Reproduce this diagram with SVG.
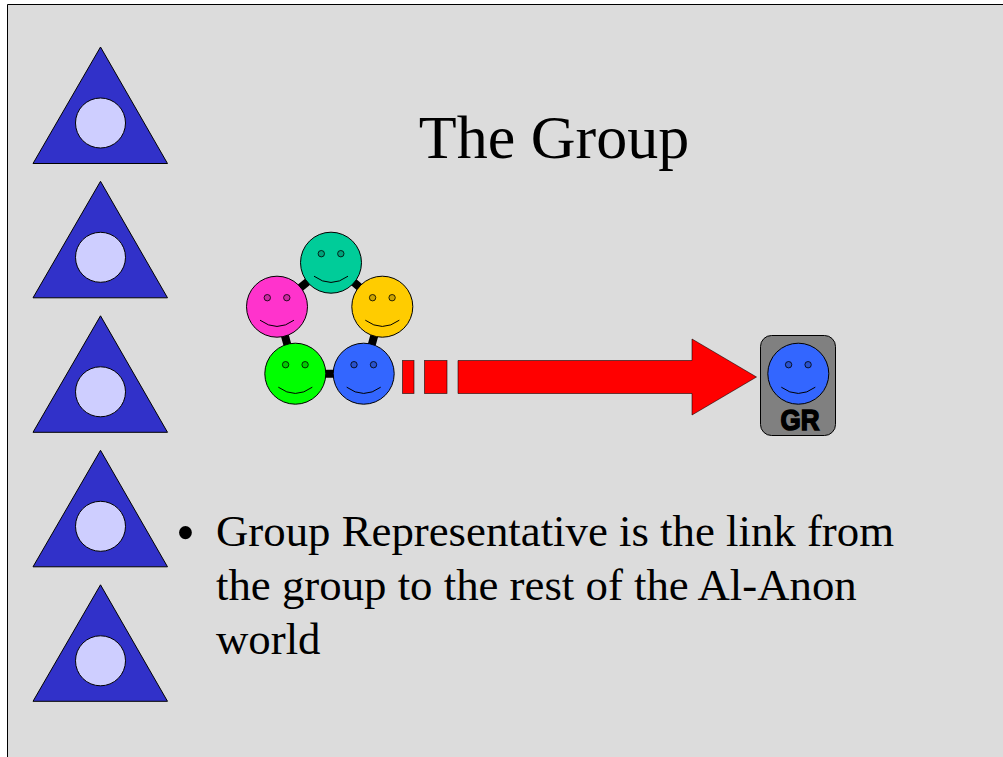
<svg xmlns="http://www.w3.org/2000/svg" width="1003" height="757" viewBox="0 0 1003 757">
<style>
.tri{fill:#3131c9;stroke:#000;stroke-width:1}
.hole{fill:#ceceff;stroke:#000;stroke-width:1}
.face{stroke:#000;stroke-width:1}
.eye{stroke:#000;stroke-width:.8}
.mouth{fill:none;stroke:#000;stroke-width:1}
.red{fill:#f00;stroke:#000;stroke-width:.8;stroke-opacity:.7}
.link{stroke:#000;stroke-width:8;fill:none}
text{font-family:"Liberation Serif","Times New Roman",serif;fill:#000}
</style>
<defs>
<g id="logo"><path class="tri" d="M100.500 47L167.500 163.500H33Z"/><circle class="hole" cx="100.500" cy="123" r="25"/></g>
<g id="smile"><circle class="eye" cx="-9.700" cy="-9" r="3.200"/><circle class="eye" cx="9.800" cy="-9" r="3.200"/><path class="mouth" d="M-17 13.500Q0 26 17 13.500"/></g>
</defs>
<rect width="1003" height="757" fill="#fff"/>
<rect x="7.500" y="4.500" width="996" height="753" fill="#dcdcdc"/>
<path d="M7.500 757V4.500H1003" fill="none" stroke="#000" stroke-width="1"/>
<g id="logo1"><use href="#logo"/></g>
<g id="logo2"><use href="#logo" y="134.300"/></g>
<g id="logo3"><use href="#logo" y="268.800"/></g>
<g id="logo4"><use href="#logo" y="403.300"/></g>
<g id="logo5"><use href="#logo" y="537.800"/></g>
<g id="connectors">
<path class="link" d="M331 262.700L382.300 306.700L363.700 373.700L295.300 373.700L277 306.700Z"/>
</g>
<g id="face-teal"><circle class="face" cx="331" cy="262.700" r="30.500" fill="#00cc99"/><use href="#smile" x="331" y="262.700" fill="#00a37a"/></g>
<g id="face-magenta"><circle class="face" cx="277" cy="306.700" r="30.500" fill="#ff33cc"/><use href="#smile" x="277" y="306.700" fill="#cc29a3"/></g>
<g id="face-yellow"><circle class="face" cx="382.300" cy="306.700" r="30.500" fill="#ffcc00"/><use href="#smile" x="382.300" y="306.700" fill="#cca300"/></g>
<g id="face-green"><circle class="face" cx="295.300" cy="373.700" r="30.500" fill="#00ff00"/><use href="#smile" x="295.300" y="373.700" fill="#00cc00"/></g>
<g id="face-blue"><circle class="face" cx="363.700" cy="373.700" r="30.500" fill="#3366ff"/><use href="#smile" x="363.700" y="373.700" fill="#2952cc"/></g>
<g id="arrow">
<rect class="red" x="402.500" y="360.500" width="11.500" height="33"/>
<rect class="red" x="424.500" y="360.500" width="22.500" height="33"/>
<path class="red" d="M458 360.500H692V339L756.500 377L692 415V393.500H458Z"/>
</g>
<g id="gr">
<rect x="760.500" y="335.500" width="75" height="100" rx="11" fill="#808080" stroke="#000"/>
<circle class="face" cx="798.300" cy="373.700" r="30.500" fill="#3366ff"/><use href="#smile" x="798.300" y="373.700" fill="#2952cc"/>
<text x="780.500" y="430" textLength="39" lengthAdjust="spacingAndGlyphs" style="font-family:'Liberation Sans',Arial,sans-serif;font-weight:bold;font-size:29px;stroke:#000;stroke-width:1.500">GR</text>
</g>
<text id="title" x="554" y="158" text-anchor="middle" font-size="62">The Group</text>
<g id="body" font-size="44.800">
<text x="176" y="551" font-size="54">•</text>
<text x="216" y="546">Group Representative is the link from</text>
<text x="216" y="600">the group to the rest of the Al-Anon</text>
<text x="216" y="654">world</text>
</g>
</svg>
